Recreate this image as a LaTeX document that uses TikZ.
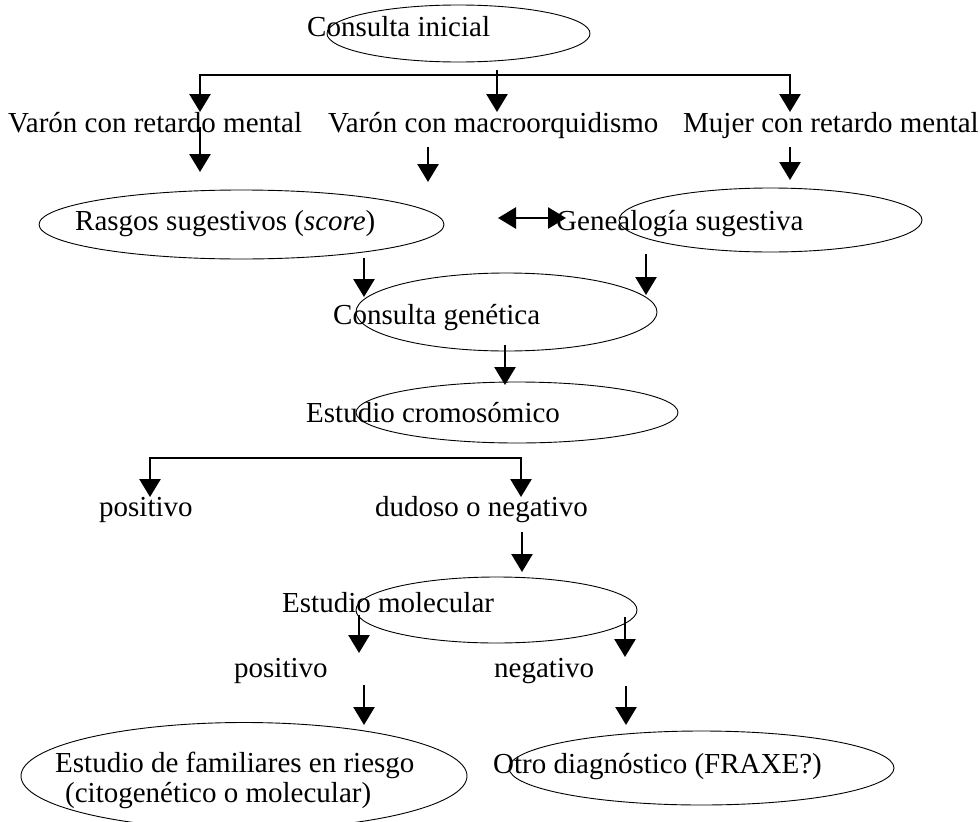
\documentclass[tikz,border=0pt]{standalone}
\usepackage{fontspec}
\setmainfont{Liberation Serif}
\usetikzlibrary{shapes.geometric}
\usetikzlibrary{arrows.meta}

\begin{document}
\begin{tikzpicture}[x=1pt, y=-1pt,
    font=\fontsize{29pt}{30pt}\selectfont,
    txt/.style={inner sep=0pt, anchor=base west},
    oval/.style={draw, ellipse, inner sep=0pt, line width=0.9pt},
    flecha/.style={-{Triangle[width=21pt, length=18pt]}, line width=2.7pt},
    dflecha/.style={{Triangle[width=21pt, length=18pt]}-{Triangle[width=21pt, length=18pt]}, line width=2.7pt}]

    \useasboundingbox (0,0) rectangle (980,822);

    %ovals
    \node[oval, minimum width=263pt, minimum height=57pt] (oIni) at (458.5,33.5) {};
    \node[oval, minimum width=405pt, minimum height=69pt] (oRasgos) at (241.5,224.5) {};
    \node[oval, minimum width=303pt, minimum height=64pt] (oGenea) at (770.5,220) {};
    \node[oval, minimum width=301pt, minimum height=78pt] (oCgen) at (506.5,312) {};
    \node[oval, minimum width=322pt, minimum height=61pt] (oCrom) at (517,412.5) {};
    \node[oval, minimum width=281pt, minimum height=66pt] (oMol) at (496.5,610) {};
    \node[oval, minimum width=446pt, minimum height=107pt] (oFam) at (244,776) {};
    \node[oval, minimum width=385pt, minimum height=74pt] (oOtro) at (701.5,768) {};

    %nodes
    \node[txt] (ini) at (307,36) {Consulta inicial};
    \node[txt] (v1) at (8,132) {Varón con retardo mental};
    \node[txt] (v2) at (328,132) {Varón con macroorquidismo};
    \node[txt] (v3) at (683,132) {Mujer con retardo mental};
    \node[txt] (rasgos) at (75,230) {Rasgos sugestivos (\textit{score})};
    \node[txt] (genea) at (556,230) {Genealogía sugestiva};
    \node[txt] (cgen) at (333,324) {Consulta genética};
    \node[txt] (crom) at (306,422) {Estudio cromosómico};
    \node[txt] (pos1) at (99,516) {positivo};
    \node[txt] (dud) at (375,516) {dudoso o negativo};
    \node[txt] (mol) at (282,612) {Estudio molecular};
    \node[txt] (pos2) at (234,677) {positivo};
    \node[txt] (neg) at (494,677) {negativo};
    \node[txt, anchor=north west, align=left] (fam) at (55,752)
        {Estudio de familiares en riesgo\\\hspace*{10pt}(citogenético o molecular)};
    \node[txt] (otro) at (493,773) {Otro diagnóstico (FRAXE?)};

    % arrow ends
    \coordinate (hub1) at (497,75);
    \coordinate (r0) at (497,70);
    \coordinate (t1) at (200,112);
    \coordinate (t2) at (497,112);
    \coordinate (t3) at (790,112);
    \coordinate (s1) at (200,127);
    \coordinate (e1) at (200,172);
    \coordinate (s2) at (428,147);
    \coordinate (e2) at (428,182);
    \coordinate (s3) at (790,147);
    \coordinate (e3) at (790,180);
    \coordinate (dA) at (498,218);
    \coordinate (dB) at (566,218);
    \coordinate (s4) at (364,258);
    \coordinate (e4) at (364,297);
    \coordinate (s5) at (646,254);
    \coordinate (e5) at (646,295);
    \coordinate (s6) at (505,345);
    \coordinate (e6) at (505,385);
    \coordinate (tP) at (150,497);
    \coordinate (hub2) at (521,458);
    \coordinate (tD) at (521,497);
    \coordinate (s7) at (522,532);
    \coordinate (e7) at (522,572);
    \coordinate (s8) at (359,615);
    \coordinate (e8) at (359,653);
    \coordinate (s9) at (625,617);
    \coordinate (e9) at (625,657);
    \coordinate (s10) at (364,685);
    \coordinate (e10) at (364,725);
    \coordinate (s11) at (626,686);
    \coordinate (e11) at (626,725);

    % arrows
    \draw[flecha] (hub1) -| (t1);
    \draw[flecha] (hub1) -| (t3);
    \draw[flecha] (r0) -- (t2);
    \draw[flecha] (s1) -- (e1);
    \draw[flecha] (s2) -- (e2);
    \draw[flecha] (s3) -- (e3);
    \draw[dflecha] (dA) -- (dB);
    \draw[flecha] (s4) -- (e4);
    \draw[flecha] (s5) -- (e5);
    \draw[flecha] (s6) -- (e6);
    \draw[dflecha] (tP) |- (hub2) -- (tD);
    \draw[flecha] (s7) -- (e7);
    \draw[flecha] (s8) -- (e8);
    \draw[flecha] (s9) -- (e9);
    \draw[flecha] (s10) -- (e10);
    \draw[flecha] (s11) -- (e11);

\end{tikzpicture}
\end{document}
